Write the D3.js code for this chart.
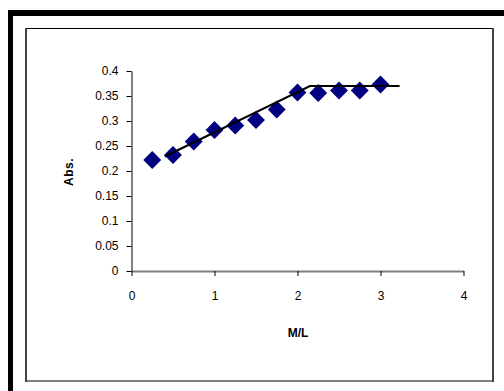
<!DOCTYPE html>
<html>
<head>
<meta charset="utf-8">
<script src="https://cdn.jsdelivr.net/npm/d3@7"></script>
<style>
  body { margin: 0; background: #fff; }
  text { font-family: Arial, "Liberation Sans", sans-serif; }
</style>
</head>
<body>
<div id="chart"></div>
<script>
// measured points (M/L ratio vs absorbance)
let ratios = [0.25, 0.5, 0.75, 1, 1.25, 1.5, 1.75, 2, 2.25, 2.5, 2.75, 3]
let absValues = [0.222, 0.232, 0.259, 0.282, 0.291, 0.302, 0.323, 0.357, 0.356, 0.361, 0.361, 0.373]

// the two-segment fit drawn over the points
let fitX = [0.4, 2.15, 3.23]
let fitY = [0.229, 0.37, 0.37]

let xTicks = [0, 1, 2, 3, 4]
let yTicks = [0, 0.05, 0.1, 0.15, 0.2, 0.25, 0.3, 0.35, 0.4]

let width = 504, height = 391

let svg = d3.select("#chart").append("svg")
    .attr("width", width)
    .attr("height", height)

// thick outer frame (only top and left fall inside the picture)
svg.append("rect")
  .attr("x", 8).attr("y", 10)
  .attr("width", 5).attr("height", height - 10)
  .attr("fill", "#000")
svg.append("rect")
  .attr("x", 8).attr("y", 10)
  .attr("width", width - 8).attr("height", 6)
  .attr("fill", "#000")

// chart area border
svg.append("rect")
  .attr("x", 26.5).attr("y", 28.5)
  .attr("width", 466).attr("height", 352.5)
  .attr("fill", "none")
  .attr("stroke", "#000")
svg.append("line")
  .attr("x1", 26).attr("x2", 26).attr("y1", 28).attr("y2", 382)
  .attr("stroke", "#444").attr("stroke-width", 2)
svg.append("line")
  .attr("x1", 493).attr("x2", 493).attr("y1", 28).attr("y2", 382)
  .attr("stroke", "#444").attr("stroke-width", 2)

let xScale = d3.scaleLinear().domain([0, 4]).range([131.5, 463.5])
let yScale = d3.scaleLinear().domain([0, 0.4]).range([271, 71])

// x axis
let xAxis = d3.axisBottom(xScale)
    .tickValues(xTicks)
    .tickFormat(d3.format("d"))
    .tickSizeInner(5)
    .tickSizeOuter(0)
    .tickPadding(15)

let gx = svg.append("g")
  .attr("transform", "translate(0,271)")
  .call(xAxis)
gx.select(".domain").attr("stroke", "#808080").attr("stroke-width", 2)
gx.selectAll(".tick line").attr("stroke", "#000")
gx.selectAll("text").attr("font-size", 12).attr("fill", "#000")

// y axis
let yAxis = d3.axisLeft(yScale)
    .tickValues(yTicks)
    .tickFormat(d => d3.format("")(+d.toFixed(2)))
    .tickSizeInner(5)
    .tickSizeOuter(0)
    .tickPadding(8)

let gy = svg.append("g")
  .attr("transform", "translate(131.5,0)")
  .call(yAxis)
gy.select(".domain").attr("stroke", "#000")
gy.selectAll(".tick line").attr("stroke", "#000")
gy.selectAll("text").attr("font-size", 12).attr("fill", "#000")

// axis titles
svg.append("text")
  .attr("x", 298).attr("y", 337)
  .attr("text-anchor", "middle")
  .attr("font-size", 12).attr("font-weight", "bold")
  .text("M/L")

svg.append("text")
  .attr("transform", "translate(73,172) rotate(-90)")
  .attr("text-anchor", "middle")
  .attr("font-size", 12).attr("font-weight", "bold")
  .attr("letter-spacing", 0.5)
  .text("Abs.")

// points
let diamond = d3.symbol().type(d3.symbolSquare).size(160)
svg.append("g")
  .selectAll("path")
  .data(ratios)
  .enter().append("path")
  .attr("d", diamond)
  .attr("transform", (d, i) => "translate(" + xScale(d) + "," + yScale(absValues[i]) + ") rotate(45)")
  .attr("fill", "#000080")

// fit line
let line = d3.line()
  .x((d, i) => xScale(d))
  .y((d, i) => yScale(fitY[i]))
svg.append("path")
  .attr("d", line(fitX))
  .attr("fill", "none")
  .attr("stroke", "#000")
  .attr("stroke-width", 2)
</script>
</body>
</html>
